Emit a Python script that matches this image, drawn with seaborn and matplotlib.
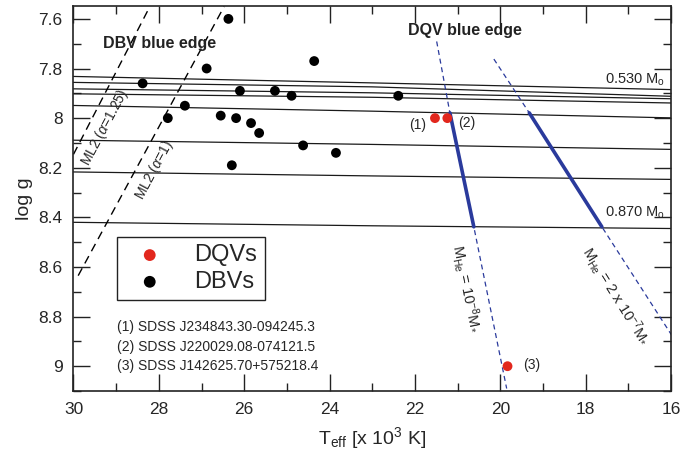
import numpy as np
import pandas as pd
import seaborn as sns
import matplotlib.pyplot as plt
from matplotlib.ticker import MultipleLocator, FormatStrFormatter

# DBV stars (black)
dbv_teff = [28.38, 27.79, 27.39, 26.88, 26.37, 26.55, 26.19, 26.10, 26.29,
            25.84, 25.65, 25.28, 24.89, 24.62, 24.36, 23.85, 22.39]
dbv_logg = [7.86, 8.00, 7.95, 7.80, 7.60, 7.99, 8.00, 7.89, 8.19,
            8.02, 8.06, 7.89, 7.91, 8.11, 7.77, 8.14, 7.91]

# DQV stars (red)
dqv_teff = [21.53, 21.24, 19.83]
dqv_logg = [8.00, 8.00, 9.00]
dqv_tags = ["(1)", "(2)", "(3)"]

# cooling tracks, read at Teff = 30, 23, 16
track_teff = [30, 23, 16]
track_masses = ["0.530", "0.542", "0.565", "0.584", "0.609", "0.664", "0.741", "0.870"]
track_logg = [
    [7.832, 7.858, 7.885],
    [7.856, 7.874, 7.912],
    [7.882, 7.898, 7.922],
    [7.902, 7.916, 7.939],
    [7.949, 7.972, 7.999],
    [8.089, 8.106, 8.126],
    [8.217, 8.233, 8.247],
    [8.420, 8.434, 8.445],
]

# DBV blue edges (ML2)
ml2_a125_teff = [30.0, 28.21]
ml2_a125_logg = [8.146, 7.55]
ml2_a1_teff = [29.89, 26.47]
ml2_a1_logg = [8.635, 7.55]

# DQV blue edges: top end, solid start, solid end, bottom end
edge_1e8_teff = [21.49, 21.18, 20.62, 19.85]
edge_1e8_logg = [7.691, 7.979, 8.438, 9.09]
edge_2e7_teff = [20.15, 19.32, 17.62, 15.98]
edge_2e7_logg = [7.762, 7.979, 8.438, 8.876]

sdss_names = ["(1) SDSS J234843.30-094245.3",
              "(2) SDSS J220029.08-074121.5",
              "(3) SDSS J142625.70+575218.4"]

sns.set_theme(style="ticks")
plt.rcParams['font.family'] = ['Liberation Sans', 'DejaVu Sans']
plt.rcParams['mathtext.fontset'] = 'custom'
plt.rcParams['mathtext.rm'] = 'Liberation Sans'
plt.rcParams['mathtext.it'] = 'Liberation Sans:italic'
plt.rcParams['mathtext.bf'] = 'Liberation Sans:bold'

fig = plt.figure(figsize=(6.83, 4.63), dpi=100)
ax = fig.add_axes([0.1076, 0.1555, 0.8748, 0.8305])

blue = '#2a3a9c'
red = '#e2271d'

# cooling tracks
for m, gg in zip(track_masses, track_logg):
    df = pd.DataFrame({"teff": track_teff, "logg": gg})
    sns.lineplot(data=df, x="teff", y="logg", ax=ax, color='#1a1a1a', lw=0.9,
                 sort=False, estimator=None, zorder=2)

# ML2 lines
for tt, gg in [(ml2_a125_teff, ml2_a125_logg), (ml2_a1_teff, ml2_a1_logg)]:
    sns.lineplot(x=tt, y=gg, ax=ax, color='black', lw=1.0, sort=False,
                 estimator=None, linestyle=(0, (6, 4)), zorder=2)

# DQV edges
for tt, gg in [(edge_1e8_teff, edge_1e8_logg), (edge_2e7_teff, edge_2e7_logg)]:
    sns.lineplot(x=tt, y=gg, ax=ax, color=blue, lw=0.9, sort=False,
                 estimator=None, linestyle=(0, (4, 3)), zorder=2)
    sns.lineplot(x=tt[1:3], y=gg[1:3], ax=ax, color=blue, lw=2.6, sort=False,
                 estimator=None, zorder=3)

# stars
sns.scatterplot(x=dqv_teff, y=dqv_logg, ax=ax, color=red, s=50,
                edgecolor='none', label='DQVs', zorder=5)
sns.scatterplot(x=dbv_teff, y=dbv_logg, ax=ax, color='black', s=50,
                edgecolor='none', label='DBVs', zorder=5)

ax.set_xlim(30, 16)
ax.set_ylim(9.1, 7.55)
ax.xaxis.set_major_locator(MultipleLocator(2))
ax.xaxis.set_minor_locator(MultipleLocator(1))
ax.yaxis.set_major_locator(MultipleLocator(0.2))
ax.yaxis.set_minor_locator(MultipleLocator(0.1))
ax.xaxis.set_major_formatter(FormatStrFormatter('%g'))
ax.yaxis.set_major_formatter(FormatStrFormatter('%g'))
ax.tick_params(which='both', direction='in', top=True, right=True,
               labelsize=12.5, color='#222222')
ax.tick_params(which='major', length=12, width=1, pad=8)
ax.tick_params(which='minor', length=6, width=1)
for sp in ax.spines.values():
    sp.set_linewidth(1.2)
    sp.set_color('#222222')

ax.set_xlabel(r"T$_{\rm eff}$ [x 10$^{3}$ K]", fontsize=14, labelpad=6)
ax.set_ylabel("log g", fontsize=14, labelpad=4)

# annotations
ax.text(29.31, 7.699, "DBV blue edge", fontsize=11.5, fontweight='bold',
        ha='left', va='center', color='#222222')
ax.text(22.16, 7.648, "DQV blue edge", fontsize=11.5, fontweight='bold',
        ha='left', va='center', color='#222222')
ax.text(16.14, 7.845, r"0.530 M$_{\rm o}$", fontsize=10.5, ha='right', va='center')
ax.text(16.14, 8.383, r"0.870 M$_{\rm o}$", fontsize=10.5, ha='right', va='center')
ax.text(29.26, 8.038, r"ML2 ($\alpha$=1.25)", fontsize=10, rotation=62,
        ha='center', va='center')
ax.text(28.11, 8.21, r"ML2 ($\alpha$=1)", fontsize=10, rotation=62,
        ha='center', va='center')
ax.text(20.80, 8.688, r"M$_{\rm He}$ = 10$^{-8}$M$_{*}$", fontsize=10.5,
        rotation=-78.5, ha='center', va='center')
ax.text(17.29, 8.717, r"M$_{\rm He}$ = 2 x 10$^{-7}$M$_{*}$", fontsize=10.5,
        rotation=-58, ha='center', va='center')

ax.text(21.74, 8.026, dqv_tags[0], fontsize=10, ha='right', va='center')
ax.text(20.99, 8.02, dqv_tags[1], fontsize=10, ha='left', va='center')
ax.text(19.47, 8.996, dqv_tags[2], fontsize=10, ha='left', va='center')

for name, yy in zip(sdss_names, [8.841, 8.922, 8.998]):
    ax.text(28.99, yy, name, fontsize=10, ha='left', va='center')

leg = ax.legend(loc='upper left', bbox_to_anchor=(0.0723, 0.4),
                fontsize=17, frameon=True, fancybox=False, framealpha=1,
                edgecolor='#222222', borderpad=0.3, labelspacing=0.2,
                handlelength=2.2, handletextpad=0.8, borderaxespad=0,
                markerscale=1.2)
leg.get_frame().set_linewidth(1.0)

fig.savefig("out.png", dpi=100)
